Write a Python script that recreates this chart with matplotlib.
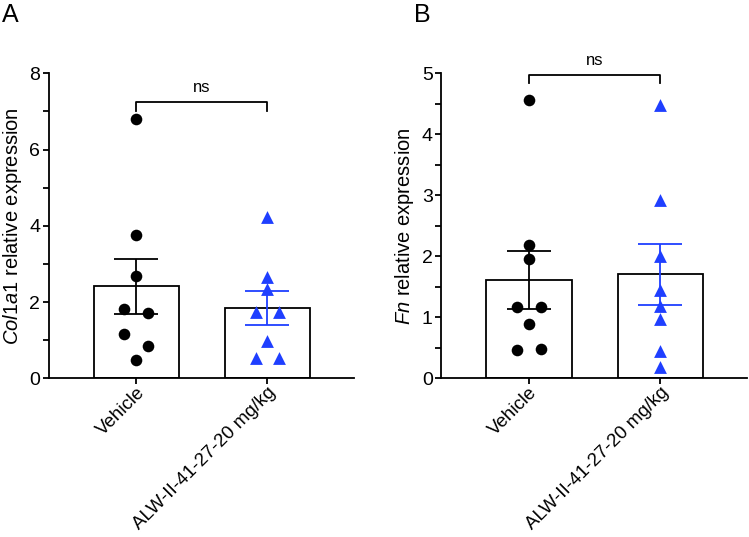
import numpy as np
import matplotlib
matplotlib.use("Agg")
import matplotlib.pyplot as plt
from matplotlib.ticker import MultipleLocator

plt.rcParams['font.family'] = ['Liberation Sans', 'DejaVu Sans']
plt.rcParams['mathtext.fontset'] = 'custom'
plt.rcParams['mathtext.rm'] = 'Liberation Sans'
plt.rcParams['mathtext.it'] = 'Liberation Sans:italic'

categories = ["Vehicle", "ALW-II-41-27-20 mg/kg"]

col1a1_vehicle = [6.80, 3.76, 2.69, 1.81, 1.71, 1.16, 0.86, 0.48]
col1a1_alw = [4.24, 2.65, 2.34, 1.73, 1.73, 0.98, 0.52, 0.52]
fn_vehicle = [4.57, 2.18, 1.96, 1.17, 1.17, 0.89, 0.47, 0.48]
fn_alw = [4.48, 2.93, 2.00, 1.44, 1.19, 0.98, 0.45, 0.18]

# horizontal jitter (in category units) for overlapping points
col1a1_vehicle_dx = [0, 0, 0, -0.09, 0.09, -0.09, 0.09, 0]
col1a1_alw_dx = [0, 0, 0, -0.09, 0.09, 0, -0.09, 0.09]
fn_vehicle_dx = [0, 0, 0, -0.09, 0.09, 0, -0.09, 0.09]
fn_alw_dx = [0, 0, 0, 0, 0, 0, 0, 0]

BLUE = '#1f3fff'
LW = 1.3

fig = plt.figure(figsize=(7.49, 5.37), dpi=100)
axA = fig.add_axes([0.0648, 0.2955, 0.4078, 0.568])
axB = fig.add_axes([0.5888, 0.2955, 0.4085, 0.568])


def panel(ax, vals_v, dx_v, vals_a, dx_a, ymax, major, minor, ylabel_it, bracket_y, tip_y, ns_y):
    groups = [(vals_v, dx_v, 'black', 'o', 70), (vals_a, dx_a, BLUE, '^', 85)]
    for i, (vals, dx, col, mk, sz) in enumerate(groups):
        v = np.array(vals)
        m = v.mean()
        sem = v.std(ddof=1) / np.sqrt(len(v))
        ax.bar(i, m, width=0.65, facecolor='white', edgecolor='black', linewidth=LW, zorder=1)
        ax.scatter(i + np.array(dx), v, marker=mk, s=sz, color=col, zorder=3, linewidths=0, clip_on=False)
        ax.errorbar(i, m, yerr=sem, color=col, capsize=16, elinewidth=LW, capthick=LW, zorder=4)
    ax.set_xlim(-0.668, 1.66)
    ax.set_ylim(0, ymax)
    ax.yaxis.set_major_locator(MultipleLocator(major))
    ax.yaxis.set_minor_locator(MultipleLocator(minor))
    ax.set_xticks([0, 1])
    ax.set_xticklabels(categories, rotation=45, ha='right', rotation_mode='anchor', fontsize=13.5)
    ax.tick_params(axis='both', which='both', width=LW, length=4, labelsize=14, pad=2)
    ax.tick_params(axis='x', pad=0, labelsize=13.5)
    for s in ['top', 'right']:
        ax.spines[s].set_visible(False)
    for s in ['left', 'bottom']:
        ax.spines[s].set_linewidth(LW)
    ax.set_ylabel(ylabel_it + " relative expression", fontsize=14.5, labelpad=4)
    ax.plot([0, 0, 1, 1], [tip_y, bracket_y, bracket_y, tip_y], color='black', lw=LW, clip_on=False)
    ax.text(0.5, ns_y, 'ns', ha='center', va='bottom', fontsize=12)


panel(axA, col1a1_vehicle, col1a1_vehicle_dx, col1a1_alw, col1a1_alw_dx, 8, 2, 1,
      r"$\it{Col1a1}$", 7.24, 7.0, 7.42)
panel(axB, fn_vehicle, fn_vehicle_dx, fn_alw, fn_alw_dx, 5, 1, 0.5,
      r"$\it{Fn}$", 4.97, 4.84, 5.08)

fig.text(0.003, 0.972, 'A', fontsize=18, ha='left', va='center')
fig.text(0.553, 0.972, 'B', fontsize=18, ha='left', va='center')

fig.savefig('out.png', dpi=100)
